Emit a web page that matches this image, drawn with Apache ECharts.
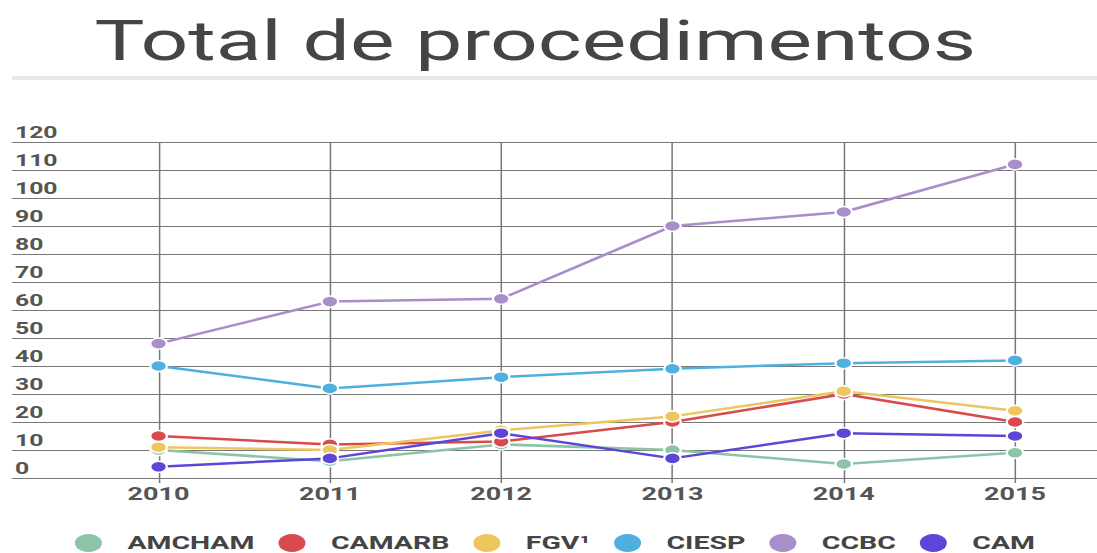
<!DOCTYPE html>
<html>
<head>
<meta charset="utf-8">
<script src="https://cdn.jsdelivr.net/npm/echarts@6/dist/echarts.min.js"></script>
<style>
  html, body { margin: 0; padding: 0; background: #fff; overflow: hidden; }
  #wrap { width: 1097px; height: 553px; overflow: hidden; position: relative; }
  #chart { width: 732px; height: 553px; transform-origin: 0 0; transform: scaleX(1.498634); }
</style>
</head>
<body>
<div id="wrap"><div id="chart"></div></div>
<script>
const years = ['2010', '2011', '2012', '2013', '2014', '2015'];
const seriesNames = ['AMCHAM', 'CAMARB', 'FGV¹', 'CIESP', 'CCBC', 'CAM'];
const amcham = [10, 6, 12, 10, 5, 9];
const camarb = [15, 12, 13, 20, 30, 20];
const fgv = [11, 10, 17, 22, 31, 24];
const ciesp = [40, 32, 36, 39, 41, 42];
const ccbc = [48, 63, 64, 90, 95, 112];
const cam = [4, 7, 16, 7, 16, 15];
const yMin = 0, yMax = 120, yStep = 10;
const colors = ['#8dc3a7', '#d94a4e', '#eec65f', '#4fb0e0', '#a98fc9', '#5b46d8'];

const values = [amcham, camarb, fgv, ciesp, ccbc, cam];
const chart = echarts.init(document.getElementById('chart'), null, { renderer: 'svg' });
const gridTop = 142, gridBottom = 75;
const option = {
  animation: false,
  color: colors,
  textStyle: { fontFamily: 'Roboto' },
  title: {
    text: 'Total de procedimentos',
    left: 58, top: 8,
    textStyle: { fontFamily: 'Roboto', fontSize: 56, fontWeight: 400, color: '#454545' }
  },
  graphic: [{
    type: 'rect', shape: { x: 8, y: 76, width: 730, height: 4 },
    style: { fill: '#e8e8e8' }, silent: true
  }],
  legend: {
    data: seriesNames,
    left: 43, top: 527,
    icon: 'circle', itemWidth: 20, itemHeight: 20, itemGap: 14,
    textStyle: { fontFamily: 'Roboto', fontSize: 19, lineHeight: 18, fontWeight: 'bold', color: '#444', padding: [0, 0, 0, 11] }
  },
  grid: [
    { left: 105.8, right: 54.7, top: gridTop, bottom: gridBottom },
    { left: 8, right: 0, top: gridTop, bottom: gridBottom }
  ],
  xAxis: [
    {
      type: 'category', gridIndex: 0, data: years, boundaryGap: false,
      axisLine: { show: false },
      axisTick: { show: true, length: 5, lineStyle: { color: '#777', width: 1 } },
      splitLine: { show: true, lineStyle: { color: '#777', width: 1 } },
      axisLabel: { margin: 7, fontFamily: 'Roboto', fontSize: 18, fontWeight: 'bold', color: '#555' }
    },
    { type: 'value', gridIndex: 1, show: false, min: 0, max: 1 }
  ],
  yAxis: [
    { type: 'value', gridIndex: 0, min: yMin, max: yMax, interval: yStep, show: false },
    {
      type: 'value', gridIndex: 1, min: yMin, max: yMax, interval: yStep,
      axisLine: { show: false }, axisTick: { show: false },
      splitLine: { show: true, lineStyle: { color: '#777', width: 1 } },
      axisLabel: {
        inside: true, margin: 2, align: 'left', verticalAlign: 'bottom',
        lineHeight: 16, padding: [0, 0, 2, 0],
        fontFamily: 'Roboto', fontSize: 16.5, fontWeight: 'bold', color: '#555'
      }
    }
  ],
  series: seriesNames.map((name, i) => ({
    name, type: 'line', xAxisIndex: 0, yAxisIndex: 0,
    data: values[i],
    symbol: 'circle', symbolSize: 11,
    lineStyle: { width: 2.5, color: colors[i] },
    itemStyle: { color: colors[i], borderColor: '#fff', borderWidth: 1.5 },
    emphasis: { disabled: true }
  }))
};
chart.setOption(option);
</script>
</body>
</html>
